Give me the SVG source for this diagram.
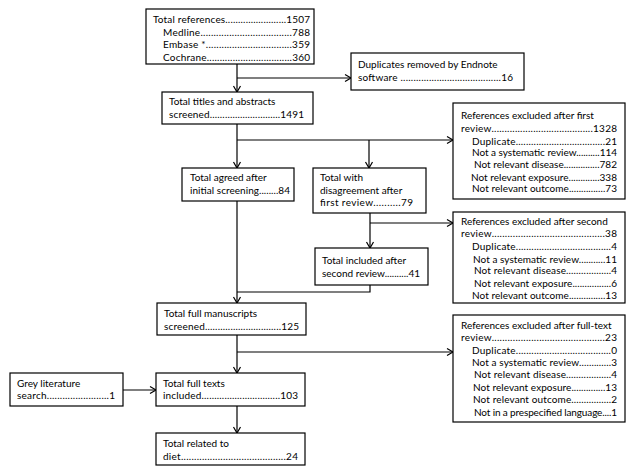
<svg xmlns="http://www.w3.org/2000/svg" width="643" height="471" viewBox="0 0 643 471">
<style>
.box{fill:#fff;stroke:#000;stroke-width:1.2}
.t{font-family:Lato,"Liberation Sans",sans-serif;font-size:10px;fill:#000}
.c{stroke:#000;stroke-width:1.2;fill:none}
.a{marker-end:url(#ah)}
</style>
<defs>
<marker id="ah" markerUnits="userSpaceOnUse" markerWidth="10" markerHeight="10" refX="7" refY="5" orient="auto">
<path d="M1,1.5 L7,5 L1,8.5" fill="none" stroke="#000" stroke-width="1.2"/>
</marker>
</defs>
<rect width="643" height="471" fill="#fff"/>
<g id="connectors">
<path class="c a" d="M237,64 V92"/>
<path class="c a" d="M237,78 H351"/>
<path class="c a" d="M237,124 V168"/>
<path class="c a" d="M237,140 H453"/>
<path class="c a" d="M369,140 V168"/>
<path class="c a" d="M237,201 V303"/>
<path class="c a" d="M370,213 V248"/>
<path class="c a" d="M370,223 H453"/>
<path class="c" d="M370,285 V292 H237"/>
<path class="c a" d="M237,335 V373"/>
<path class="c a" d="M237,352 H453"/>
<path class="c a" d="M123,390 H156"/>
<path class="c a" d="M237,406 V433"/>
</g>
<g id="total-references">
<rect class="box" x="146" y="9" width="168" height="55"/>
<text class="t" x="153" y="23" textLength="157" lengthAdjust="spacing">Total references........................1507</text>
<text class="t" x="163" y="36" textLength="147" lengthAdjust="spacing">Medline...................................788</text>
<text class="t" x="163" y="48" textLength="147" lengthAdjust="spacing">Embase *.................................359</text>
<text class="t" x="163" y="61" textLength="147" lengthAdjust="spacing">Cochrane.................................360</text>
</g>
<g id="duplicates">
<rect class="box" x="351" y="53" width="173" height="37"/>
<text class="t" x="358" y="68">Duplicates removed by Endnote</text>
<text class="t" x="358" y="81" textLength="155" lengthAdjust="spacing">software .......................................16</text>
</g>
<g id="titles-abstracts">
<rect class="box" x="162" y="92" width="151" height="32"/>
<text class="t" x="169" y="105">Total titles and abstracts</text>
<text class="t" x="169" y="118" textLength="135" lengthAdjust="spacing">screened............................1491</text>
</g>
<g id="excluded-first">
<rect class="box" x="453" y="103" width="172" height="96"/>
<text class="t" x="461" y="118.5">References excluded after first</text>
<text class="t" x="461" y="131.5" textLength="156" lengthAdjust="spacing">review.......................................1328</text>
<text class="t" x="472" y="144.5" textLength="145" lengthAdjust="spacing">Duplicate...................................21</text>
<text class="t" x="472" y="156" textLength="145" lengthAdjust="spacing">Not a systematic review..........114</text>
<text class="t" x="474" y="168" textLength="143" lengthAdjust="spacing">Not relevant disease...............782</text>
<text class="t" x="471" y="180.5" textLength="146" lengthAdjust="spacing">Not relevant exposure.............338</text>
<text class="t" x="472" y="192" textLength="145" lengthAdjust="spacing">Not relevant outcome...............73</text>
</g>
<g id="agreed">
<rect class="box" x="182" y="168" width="112" height="33"/>
<text class="t" x="190" y="181">Total agreed after</text>
<text class="t" x="190" y="194" textLength="100" lengthAdjust="spacing">initial screening........84</text>
</g>
<g id="disagreement">
<rect class="box" x="313" y="168" width="113" height="45"/>
<text class="t" x="320" y="181">Total with</text>
<text class="t" x="320" y="194">disagreement after</text>
<text class="t" x="320" y="206" textLength="93" lengthAdjust="spacing">first review..........79</text>
</g>
<g id="excluded-second">
<rect class="box" x="453" y="212" width="172" height="91"/>
<text class="t" x="461" y="224.5">References excluded after second</text>
<text class="t" x="461" y="236.5" textLength="156" lengthAdjust="spacing">review...........................................38</text>
<text class="t" x="472" y="249.5" textLength="145" lengthAdjust="spacing">Duplicate.....................................4</text>
<text class="t" x="473" y="262.5" textLength="144" lengthAdjust="spacing">Not a systematic review...........11</text>
<text class="t" x="474" y="273.5" textLength="143" lengthAdjust="spacing">Not relevant disease..................4</text>
<text class="t" x="474" y="286.5" textLength="143" lengthAdjust="spacing">Not relevant exposure................6</text>
<text class="t" x="472" y="298.5" textLength="145" lengthAdjust="spacing">Not relevant outcome...............13</text>
</g>
<g id="included-second">
<rect class="box" x="315" y="248" width="113" height="37"/>
<text class="t" x="322" y="263.5">Total included after</text>
<text class="t" x="322" y="276.5" textLength="98" lengthAdjust="spacing">second review..........41</text>
</g>
<g id="full-manuscripts">
<rect class="box" x="157" y="303" width="149" height="32"/>
<text class="t" x="164" y="316.5">Total full manuscripts</text>
<text class="t" x="164" y="329.5" textLength="135" lengthAdjust="spacing">screened..............................125</text>
</g>
<g id="excluded-fulltext">
<rect class="box" x="453" y="315" width="172" height="107"/>
<text class="t" x="461" y="328.5">References excluded after full-text</text>
<text class="t" x="461" y="340.5" textLength="156" lengthAdjust="spacing">review...........................................23</text>
<text class="t" x="472" y="353.5" textLength="145" lengthAdjust="spacing">Duplicate.....................................0</text>
<text class="t" x="472" y="365.5" textLength="145" lengthAdjust="spacing">Not a systematic review.............3</text>
<text class="t" x="474" y="377.5" textLength="143" lengthAdjust="spacing">Not relevant disease..................4</text>
<text class="t" x="473" y="390.5" textLength="144" lengthAdjust="spacing">Not relevant exposure..............13</text>
<text class="t" x="473" y="402.5" textLength="144" lengthAdjust="spacing">Not relevant outcome................2</text>
<text class="t" x="474" y="415.5" textLength="143" lengthAdjust="spacing">Not in a prespecified language....1</text>
</g>
<g id="grey-literature">
<rect class="box" x="10" y="373" width="113" height="33"/>
<text class="t" x="17" y="386.5">Grey literature</text>
<text class="t" x="17" y="398.5" textLength="98" lengthAdjust="spacing">search........................1</text>
</g>
<g id="full-texts">
<rect class="box" x="156" y="373" width="149" height="33"/>
<text class="t" x="163" y="386.5">Total full texts</text>
<text class="t" x="163" y="398.5" textLength="135" lengthAdjust="spacing">included...............................103</text>
</g>
<g id="diet">
<rect class="box" x="156" y="433" width="149" height="32"/>
<text class="t" x="163" y="446.5">Total related to</text>
<text class="t" x="163" y="459.5" textLength="135" lengthAdjust="spacing">diet........................................24</text>
</g>
</svg>
